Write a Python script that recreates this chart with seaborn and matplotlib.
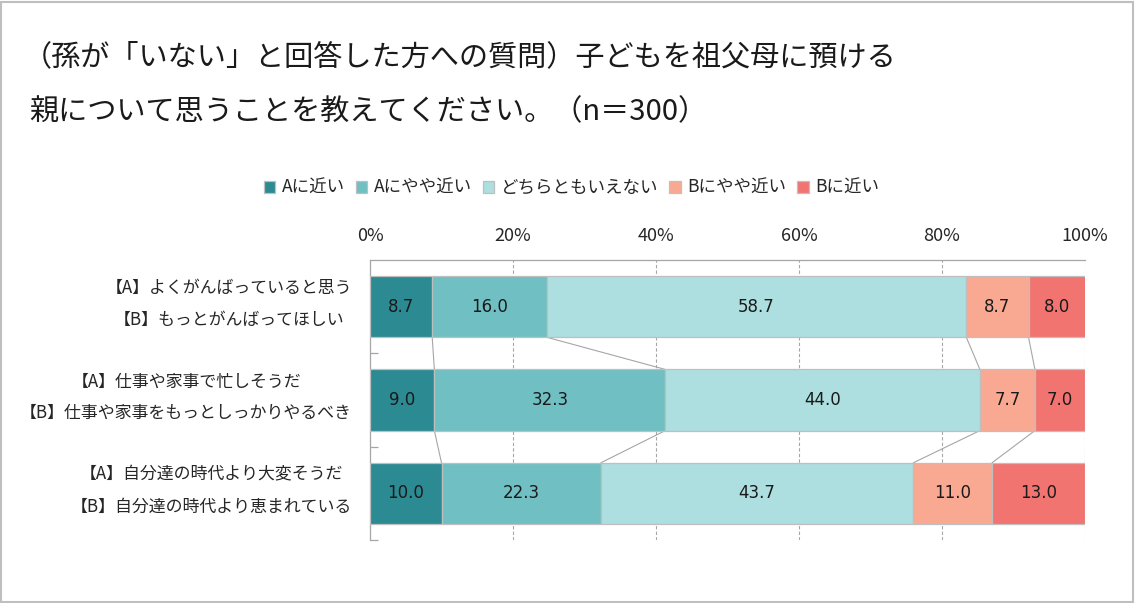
import matplotlib
matplotlib.use("Agg")
import matplotlib.pyplot as plt
from matplotlib.patches import Rectangle, Patch
from matplotlib.transforms import blended_transform_factory
import seaborn as sns
import pandas as pd
import numpy as np

# ---- data ----
categories = [
    "【A】よくがんばっていると思う\n【B】もっとがんばってほしい",
    "【A】仕事や家事で忙しそうだ\n【B】仕事や家事をもっとしっかりやるべき",
    "【A】自分達の時代より大変そうだ\n【B】自分達の時代より恵まれている",
]
series_names = ["Aに近い", "Aにやや近い", "どちらともいえない", "Bにやや近い", "Bに近い"]
a_close = [8.7, 9.0, 10.0]
a_somewhat = [16.0, 32.3, 22.3]
neutral = [58.7, 44.0, 43.7]
b_somewhat = [8.7, 7.7, 11.0]
b_close = [8.0, 7.0, 13.0]
xtick_values = [0, 20, 40, 60, 80, 100]
xtick_labels = ["0%", "20%", "40%", "60%", "80%", "100%"]
title_line1 = "（孫が「いない」と回答した方への質問）子どもを祖父母に預ける"
title_line2 = "親について思うことを教えてください。（n＝300）"

colors = ["#2B8A92", "#70BFC3", "#ADDFE1", "#F9A991", "#F17471"]

sns.set_theme(style="white")
plt.rcParams["font.family"] = ["Noto Sans CJK JP", "DejaVu Sans"]

fig = plt.figure(figsize=(11.36, 6.03), dpi=100)
ax = fig.add_axes([370 / 1136, 1 - 540 / 603, 715 / 1136, 280 / 603])

values = [a_close, a_somewhat, neutral, b_somewhat, b_close]
left = np.zeros(len(categories))
lefts = []
bar_w = 0.655
for name, vals, col in zip(series_names, values, colors):
    df = pd.DataFrame({"cat": categories, "val": vals})
    sns.barplot(data=df, x="val", y="cat", order=categories, orient="y",
                color=col, width=bar_w, left=list(left), edgecolor="#BFBFBF",
                linewidth=0.9, saturation=1, ax=ax, zorder=3)
    lefts.append(left.copy())
    left = left + np.array(vals)
cums = np.cumsum(np.array(values), axis=0)  # shape (5, 3)

# value labels
for k, vals in enumerate(values):
    for i, v in enumerate(vals):
        ax.text(lefts[k][i] + v / 2, i, f"{v:.1f}", ha="center", va="center",
                fontsize=12, color="#1a1a1a", zorder=5, family="DejaVu Sans")

# series connector lines
for k in range(4):
    for i in range(len(categories) - 1):
        ax.plot([cums[k][i], cums[k][i + 1]], [i + bar_w / 2, i + 1 - bar_w / 2],
                color="#A6A6A6", lw=0.8, zorder=2)

ax.set_xlim(0, 100)
ax.set_ylim(2.5, -0.5)
ax.xaxis.tick_top()
ax.set_xticks(xtick_values)
ax.set_xticklabels(xtick_labels, fontsize=13, color="#262626")
ax.tick_params(axis="x", length=0, pad=11)
ax.set_xlabel("")
ax.set_ylabel("")
ax.set_yticks(range(len(categories)))
ax.set_yticklabels([""] * len(categories))
ax.tick_params(axis="y", which="major", length=0)
trans = blended_transform_factory(ax.transAxes, ax.transData)
for i, cat in enumerate(categories):
    ax.text(-18 / 715, i - 0.03, cat, transform=trans, ha="right", va="center",
            multialignment="center", linespacing=1.98, fontsize=12.2, color="#262626")
ax.set_yticks([0.5, 1.5, 2.5], minor=True)
ax.tick_params(axis="y", which="minor", length=6, direction="in", color="#A6A6A6",
               width=0.9, left=True)

for xv in xtick_values[1:]:
    ax.axvline(xv, color="#A6A6A6", lw=0.8, ls=(0, (3, 2)), zorder=1)

for s in ["right", "bottom"]:
    ax.spines[s].set_visible(False)
for s in ["left", "top"]:
    ax.spines[s].set_visible(True)
    ax.spines[s].set_color("#A6A6A6")
    ax.spines[s].set_linewidth(0.9)

# legend
handles = [Patch(facecolor=c, edgecolor="#BFBFBF", linewidth=0.9) for c in colors]
fig.legend(handles, series_names, loc="center", bbox_to_anchor=(0.503, 1 - 188 / 603),
           ncol=5, frameon=False, fontsize=12.6, handlelength=0.65, handleheight=0.65,
           handletextpad=0.35, columnspacing=0.65, labelcolor="#262626")

# titles
fig.text(23 / 1136, 1 - 57 / 603, title_line1, fontsize=21, color="#1a1a1a",
         ha="left", va="center")
fig.text(29 / 1136, 1 - 112 / 603, title_line2, fontsize=21, color="#1a1a1a",
         ha="left", va="center")

# figure border
fig.patches.append(Rectangle((0.001, 0.002), 0.996, 0.995, transform=fig.transFigure,
                             fill=False, edgecolor="#BFBFBF", lw=1.5))

fig.savefig("out.png", dpi=100)
